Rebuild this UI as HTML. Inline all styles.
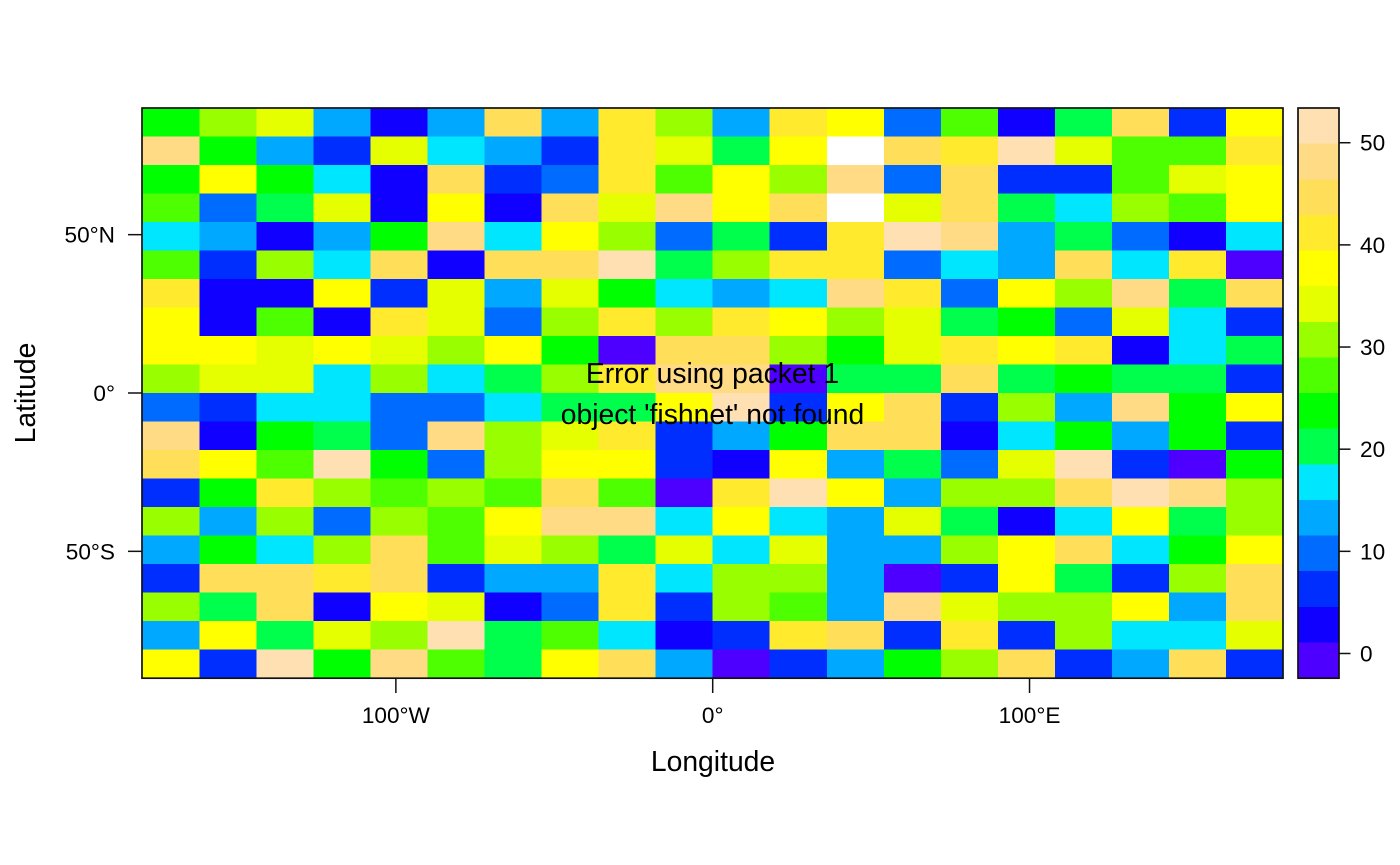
<!DOCTYPE html>
<html lang="en">
<head>
<meta charset="utf-8">
<title>Levelplot</title>
<style>
html,body{margin:0;padding:0;background:#fff;width:1400px;height:865px;overflow:hidden}
svg{display:block}
text{font-family:"Liberation Sans",Helvetica,Arial,sans-serif;fill:#000}
</style>
</head>
<body>
<svg id="chart" xmlns="http://www.w3.org/2000/svg" width="1400" height="865" viewBox="0 0 1400 865">
  <g id="cells" shape-rendering="crispEdges"></g>
  <g id="legend-cells" shape-rendering="crispEdges"></g>
  <rect x="142" y="108" width="1141" height="570.2" fill="none" stroke="#111" stroke-width="1.7"></rect>
  <rect x="1298" y="108" width="41" height="570.2" fill="none" stroke="#111" stroke-width="1.7"></rect>
  <g id="x-axis"></g>
  <g id="y-axis"></g>
  <g id="z-axis"></g>
  <text x="713" y="771" font-size="28.3" text-anchor="middle">Longitude</text>
  <text x="35" y="393" font-size="28.3" text-anchor="middle" transform="rotate(-90 35 393)">Latitude</text>
  <text x="712.5" y="383" font-size="28.3" text-anchor="middle">Error using packet 1</text>
  <text x="712.5" y="424" font-size="28.3" text-anchor="middle">object 'fishnet' not found</text>
</svg>
<script>
const lonRange = [-180, 180];
const latRange = [-90, 90];
const zRange = [-2.4, 53.4];
const xTickValues = [-100, 0, 100];
const xTickLabels = ["100°W", "0°", "100°E"];
const yTickValues = [50, 0, -50];
const yTickLabels = ["50°N", "0°", "50°S"];
const zTickValues = [0, 10, 20, 30, 40, 50];
const zTickLabels = ["0", "10", "20", "30", "40", "50"];
const palette = ["#4D00FF","#0F00FF","#002EFF","#006BFF","#00A8FF","#00E6FF","#00FF4D","#00FF00","#4DFF00","#99FF00","#E6FF00","#FFFF00","#FFEA2D","#FFDE59","#FFDB86","#FFE0B3"];

/* rows north to south, columns west to east; null = missing value */
const row01 = [24,31,35,14,3,14,45,14,42,31,14,42,38,10,28,3,21,45,7,38];
const row02 = [49,24,14,7,35,17,14,7,42,35,21,38,null,45,42,52,35,28,28,42];
const row03 = [24,38,24,17,3,45,7,10,42,28,38,31,49,10,45,7,7,28,35,38];
const row04 = [28,10,21,35,3,38,3,45,35,49,38,45,null,35,45,21,17,31,28,38];
const row05 = [17,14,3,14,24,49,17,38,31,10,21,7,42,52,49,14,21,10,3,17];
const row06 = [28,7,31,17,45,3,45,45,52,21,31,42,42,10,17,14,45,17,42,0];
const row07 = [42,3,3,38,7,35,14,35,24,17,14,17,49,42,10,38,31,49,21,45];
const row08 = [38,3,28,3,42,35,10,31,42,31,42,38,31,35,21,24,10,35,17,7];
const row09 = [38,38,35,38,35,31,38,24,0,45,45,31,24,35,42,38,42,3,17,21];
const row10 = [31,35,35,17,31,17,21,31,42,49,49,0,21,21,45,21,24,21,21,7];
const row11 = [10,7,17,17,10,10,17,21,21,38,52,7,38,45,7,31,14,49,24,38];
const row12 = [49,3,24,21,10,49,31,35,42,7,14,24,45,45,3,17,24,14,24,7];
const row13 = [45,38,28,52,24,10,31,38,38,7,3,38,14,21,10,35,52,7,0,24];
const row14 = [7,24,42,31,28,31,28,45,28,0,42,52,38,14,31,31,45,52,49,31];
const row15 = [31,14,31,10,31,28,38,49,49,17,38,17,14,35,21,3,17,38,21,31];
const row16 = [14,24,17,31,45,28,35,31,21,35,17,35,14,14,31,38,45,17,24,38];
const row17 = [7,45,45,42,45,7,14,14,42,17,31,31,14,0,7,38,21,7,31,45];
const row18 = [31,21,45,3,38,35,3,10,42,7,31,28,14,49,35,31,31,38,14,45];
const row19 = [14,38,21,35,31,52,21,28,17,3,7,42,45,7,42,7,31,17,17,35];
const row20 = [38,7,52,24,49,28,21,38,45,14,0,7,14,24,31,45,7,14,45,7];
const gridValues = [row01,row02,row03,row04,row05,row06,row07,row08,row09,row10,row11,row12,row13,row14,row15,row16,row17,row18,row19,row20];

const NS = "http://www.w3.org/2000/svg";
const panel = {left: 142.4, right: 1283, top: 108, bottom: 678};
const bar = {left: 1298, right: 1339, top: 108, bottom: 678};

function xScale(lon) {
  return panel.left + (lon - lonRange[0]) / (lonRange[1] - lonRange[0]) * (panel.right - panel.left);
}
function yScale(lat) {
  return panel.bottom - (lat - latRange[0]) / (latRange[1] - latRange[0]) * (panel.bottom - panel.top);
}
function zScale(z) {
  return bar.bottom - (z - zRange[0]) / (zRange[1] - zRange[0]) * (bar.bottom - bar.top);
}
function colorFor(v) {
  if (v === null) return "#FFFFFF";
  const i = Math.floor((v - zRange[0]) / (zRange[1] - zRange[0]) * palette.length);
  return palette[Math.max(0, Math.min(palette.length - 1, i))];
}
function make(tag, attrs, parent) {
  const el = document.createElementNS(NS, tag);
  for (const k in attrs) el.setAttribute(k, attrs[k]);
  parent.appendChild(el);
  return el;
}

const cellsG = document.getElementById("cells");
const nRows = gridValues.length;
gridValues.forEach(function (row, r) {
  const nCols = row.length;
  row.forEach(function (v, c) {
    const lonStep = (lonRange[1] - lonRange[0]) / nCols;
    const latStep = (latRange[1] - latRange[0]) / nRows;
    const x0 = xScale(lonRange[0] + c * lonStep);
    const x1 = xScale(lonRange[0] + (c + 1) * lonStep);
    const y0 = yScale(latRange[1] - r * latStep);
    const y1 = yScale(latRange[1] - (r + 1) * latStep);
    const rect = make("rect", {x: x0, y: y0, width: x1 - x0, height: y1 - y0, fill: colorFor(v)}, cellsG);
    
    
  });
});

const legendG = document.getElementById("legend-cells");
palette.forEach(function (color, i) {
  const step = (zRange[1] - zRange[0]) / palette.length;
  const y0 = zScale(zRange[0] + (i + 1) * step);
  const y1 = zScale(zRange[0] + i * step);
  const rect = make("rect", {x: bar.left, y: y0, width: bar.right - bar.left, height: y1 - y0, fill: color}, legendG);
  
  
});

const xAxisG = document.getElementById("x-axis");
xTickValues.forEach(function (v, i) {
  const x = xScale(v);
  const tick = make("line", {x1: x, x2: x, y1: 678, y2: 693, stroke: "#111", "stroke-width": 1.5}, xAxisG);
  
  
  const label = make("text", {x: x, y: 723, "font-size": 22.6, "text-anchor": "middle"}, xAxisG);
  label.textContent = xTickLabels[i];
  
  
});

const yAxisG = document.getElementById("y-axis");
yTickValues.forEach(function (v, i) {
  const y = yScale(v);
  const tick = make("line", {x1: 128, x2: 142, y1: y, y2: y, stroke: "#111", "stroke-width": 1.5}, yAxisG);
  
  
  const label = make("text", {x: 115, y: y + 8, "font-size": 22.6, "text-anchor": "end"}, yAxisG);
  label.textContent = yTickLabels[i];
  
  
});

const zAxisG = document.getElementById("z-axis");
zTickValues.forEach(function (v, i) {
  const y = zScale(v);
  const tick = make("line", {x1: 1339, x2: 1350.5, y1: y, y2: y, stroke: "#111", "stroke-width": 1.5}, zAxisG);
  
  
  const label = make("text", {x: 1360, y: y + 8, "font-size": 22.6, "text-anchor": "start"}, zAxisG);
  label.textContent = zTickLabels[i];
  
  
});
</script>
</body>
</html>
